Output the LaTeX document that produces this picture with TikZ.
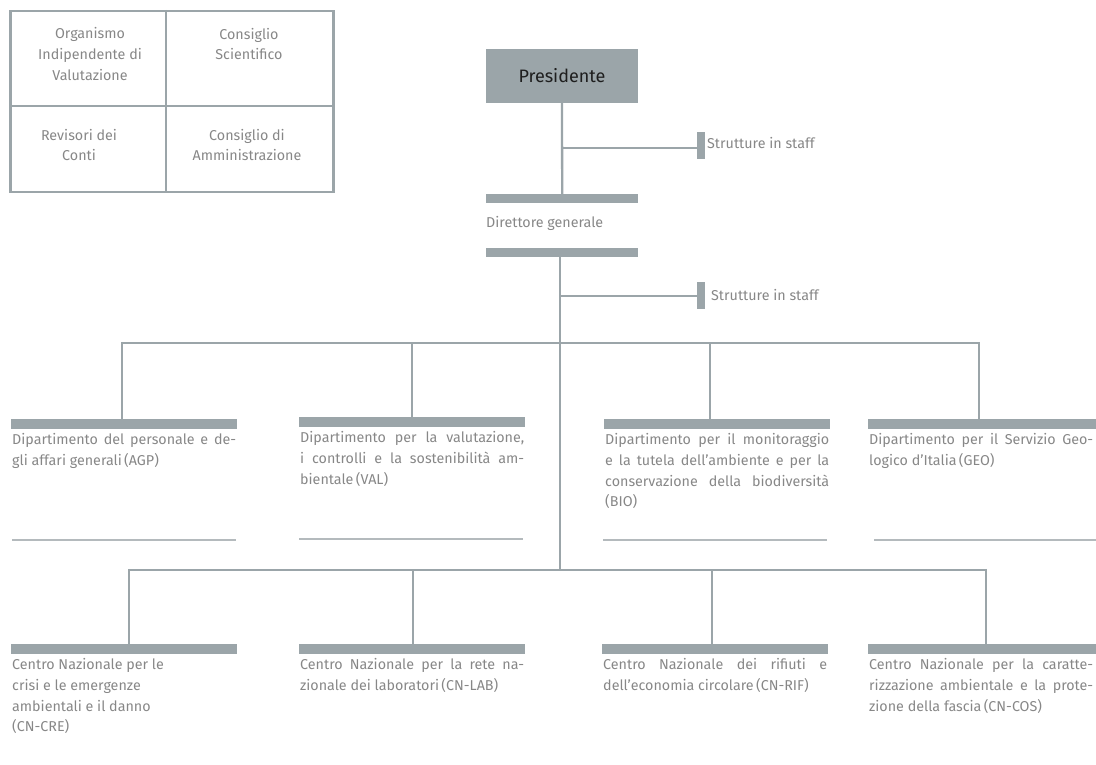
\documentclass[tikz,border=0pt]{standalone}
\usepackage{fontspec}
\setmainfont{Fira Sans}
\definecolor{barc}{HTML}{9BA5A9}
\definecolor{linec}{HTML}{9BA5A9}
\definecolor{thinc}{HTML}{B4BABD}
\definecolor{txtc}{HTML}{878787}
\definecolor{darkc}{HTML}{1E1E1E}
\newcommand{\jl}[1]{\makebox[224pt][s]{#1}}
\tikzset{
  barnode/.style={fill=barc, draw=none, inner sep=0, minimum width=226, minimum height=10, anchor=north west},
  staffbar/.style={fill=barc, draw=none, inner sep=0, minimum width=8, minimum height=27},
  conn/.style={draw=linec, line width=2.3pt},
  thinline/.style={draw=thinc, line width=1.5pt},
  lbl/.style={text=txtc, font=\fontsize{14.3}{20.7}\selectfont, inner sep=0, align=left, anchor=north west},
  boxlbl/.style={text=txtc, font=\fontsize{14.3}{20.7}\selectfont, inner sep=0, align=center},
}
\begin{document}
\begin{tikzpicture}[x=1pt,y=-1pt]
\useasboundingbox (0,0) rectangle (1096,765);
% top-left box
\node[draw=linec, line width=2.5pt, minimum width=323, minimum height=181, inner sep=0, anchor=north west] (board) at (9,10) {};
\coordinate (bx) at (166,106);
\draw[draw=linec, line width=1.5pt] (bx |- board.north) -- (bx |- board.south);
\draw[draw=linec, line width=1.5pt] (bx -| board.west) -- (bx -| board.east);
\node[boxlbl] (oiv) at (90,54) {Organismo\\Indipendente di\\Valutazione};
\node[boxlbl] (cs) at (249,44) {Consiglio\\Scientifico};
\node[boxlbl] (rev) at (79,145) {Revisori dei\\Conti};
\node[boxlbl] (cda) at (247,145) {Consiglio di\\Amministrazione};
% president
\node[fill=barc, inner sep=0, minimum width=152, minimum height=54, text=darkc, font=\fontsize{18}{20}\selectfont] (pres) at (562,76) {Presidente};
% DG bars
\node[barnode, minimum width=152, minimum height=9] (dgtop) at (486,194) {};
\node[lbl, anchor=west] (dg) at (486,223) {Direttore generale};
\node[barnode, minimum width=152, minimum height=9] (dgbot) at (486,248) {};
\draw[conn] (pres.south) -- (dgtop.north);
% staff 1
\node[staffbar] (st1) at (701,145.5) {};
\node[lbl, anchor=west] (st1t) at (707,143) {Strutture in staff};
\coordinate (s1) at (562,148);
\draw[conn] (s1) -- (s1 -| st1.west);
% main vertical
\coordinate (top) at (560,257);
\coordinate (j2) at (560,570);
\draw[conn] (top) -- (j2);
% staff 2
\node[staffbar] (st2) at (701,295.5) {};
\node[lbl, anchor=west] (st2t) at (711,295) {Strutture in staff};
\coordinate (s2) at (560,296);
\draw[conn] (s2) -- (s2 -| st2.west);
% departments
\node[barnode] (d1) at (11,419) {};
\node[barnode] (d2) at (299,417) {};
\node[barnode] (d3) at (604,419) {};
\node[barnode, minimum width=228] (d4) at (868,419) {};
\coordinate (h1a) at (122,343);
\coordinate (h1b) at (412,343);
\coordinate (h1c) at (710,343);
\coordinate (h1d) at (979,343);
\draw[conn] (h1a) -- (h1d);
\draw[conn] ([yshift=1.15pt]h1a) -- (h1a |- d1.north);
\draw[conn] (h1b) -- (h1b |- d2.north);
\draw[conn] (h1c) -- (h1c |- d3.north);
\draw[conn] ([yshift=1.15pt]h1d) -- (h1d |- d4.north);
\node[lbl] (d1t) at ([xshift=1pt,yshift=-4pt]d1.south west) {\jl{Dipartimento del personale e de-}\\gli affari generali\,(AGP)};
\node[lbl] (d2t) at ([xshift=1pt,yshift=-4pt]d2.south west) {\jl{Dipartimento per la valutazione,}\\\jl{i controlli e la sostenibilità am-}\\bientale\,(VAL)};
\node[lbl] (d3t) at ([xshift=1pt,yshift=-4pt]d3.south west) {\jl{Dipartimento per il monitoraggio}\\\jl{e la tutela dell’ambiente e per la}\\\jl{conservazione della biodiversità}\\(BIO)};
\node[lbl] (d4t) at ([xshift=1pt,yshift=-4pt]d4.south west) {\jl{Dipartimento per il Servizio Geo-}\\logico d’Italia\,(GEO)};
% thin separator lines
\coordinate (l1a) at (12,540); \coordinate (l1b) at (236,540);
\coordinate (l2a) at (299,539); \coordinate (l2b) at (523,539);
\coordinate (l3a) at (603,540); \coordinate (l3b) at (827,540);
\coordinate (l4a) at (874,540); \coordinate (l4b) at (1096,540);
\draw[thinline] (l1a) -- (l1b);
\draw[thinline] (l2a) -- (l2b);
\draw[thinline] (l3a) -- (l3b);
\draw[thinline] (l4a) -- (l4b);
% centres
\node[barnode] (c1) at (11,644) {};
\node[barnode] (c2) at (299,644) {};
\node[barnode] (c3) at (602,644) {};
\node[barnode, minimum width=228] (c4) at (868,644) {};
\coordinate (h2a) at (129,570);
\coordinate (h2b) at (413,570);
\coordinate (h2c) at (712,570);
\coordinate (h2d) at (986,570);
\draw[conn] (h2a) -- (h2d);
\draw[conn] ([yshift=1.15pt]h2a) -- (h2a |- c1.north);
\draw[conn] (h2b) -- (h2b |- c2.north);
\draw[conn] (h2c) -- (h2c |- c3.north);
\draw[conn] ([yshift=1.15pt]h2d) -- (h2d |- c4.north);
\node[lbl] (c1t) at ([xshift=1pt,yshift=-4pt]c1.south west) {Centro Nazionale per le\\crisi e le emergenze\\ambientali e il danno\\(CN-CRE)};
\node[lbl] (c2t) at ([xshift=1pt,yshift=-4pt]c2.south west) {\jl{Centro Nazionale per la rete na-}\\zionale dei laboratori\,(CN-LAB)};
\node[lbl] (c3t) at ([xshift=1pt,yshift=-4pt]c3.south west) {\jl{Centro Nazionale dei rifiuti e}\\dell’economia circolare\,(CN-RIF)};
\node[lbl] (c4t) at ([xshift=1pt,yshift=-4pt]c4.south west) {\jl{Centro Nazionale per la caratte-}\\\jl{rizzazione ambientale e la prote-}\\zione della fascia\,(CN-COS)};
\end{tikzpicture}
\end{document}
